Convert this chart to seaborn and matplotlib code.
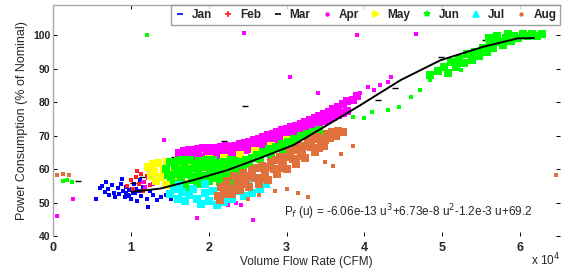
import numpy as np
import pandas as pd
import seaborn as sns
import matplotlib
matplotlib.use("Agg")
import matplotlib.pyplot as plt
from matplotlib.lines import Line2D
from matplotlib.ticker import FuncFormatter

sns.set_theme(style="white")
plt.rcParams['font.family'] = ['Liberation Sans', 'DejaVu Sans']

# flow rate in units of 1e4 CFM, power in % of nominal
# "core" = dense part of each month's cloud, "stray" = isolated points
jan_x = [0.55, 0.60, 0.63, 0.66, 0.70, 0.72, 0.75, 0.78, 0.80, 0.83, 0.85, 0.87, 0.90, 0.92, 0.94, 0.96,
         0.98, 1.00, 1.02, 1.04, 1.06, 1.08, 1.10, 1.13, 1.16, 1.20, 1.24, 1.28, 1.33, 1.38, 1.45, 1.52,
         0.68, 0.88, 1.12, 1.22, 0.93, 0.97, 1.01, 1.05]
jan_y = [51.2, 54.3, 55.0, 53.2, 54.0, 52.4, 55.2, 53.0, 51.8, 54.4, 52.6, 55.6, 53.4, 51.6, 54.8, 52.2,
         53.8, 51.0, 52.8, 55.4, 54.0, 50.6, 53.4, 52.0, 54.6, 51.2, 53.6, 52.4, 50.8, 51.6, 52.2, 51.0,
         56.0, 57.0, 56.6, 48.8, 53.0, 52.0, 54.0, 53.0]

feb_x = [0.95, 1.00, 1.03, 1.06, 1.10, 1.13, 1.17, 1.20, 1.24, 1.28, 1.32, 1.15, 1.08]
feb_y = [55.0, 56.8, 54.2, 57.6, 55.6, 58.4, 56.2, 57.8, 55.2, 58.8, 56.6, 53.4, 59.4]

mar_x = [0.32, 1.02, 1.14, 1.22, 1.32, 1.55, 1.95, 2.20, 2.47, 2.85, 3.15, 3.55, 4.18, 4.40, 4.98, 5.55]
mar_y = [56.4, 55.8, 57.6, 59.8, 61.4, 63.6, 66.2, 68.5, 78.8, 70.5, 72.8, 74.6, 80.6, 84.2, 93.4, 98.5]

apr_core_x = [1.62, 1.68, 1.74, 1.80, 1.86, 1.92, 1.98, 2.04, 2.10, 2.16, 2.22, 2.28, 2.34, 2.40, 2.46,
              2.52, 2.58, 2.64, 2.70, 2.76, 2.82, 2.88, 2.94, 3.00, 3.06, 3.12, 3.18, 3.24, 3.30, 3.36,
              3.42, 3.48, 3.54, 3.60, 3.66, 3.72, 3.78,
              1.62, 1.68, 1.74, 1.80, 1.86, 1.92, 1.98, 2.04, 2.10, 2.16, 2.22, 2.28, 2.34, 2.40, 2.46,
              2.52, 2.58, 2.64, 2.70, 2.76, 2.82, 2.88, 2.94, 3.00, 3.06, 3.12, 3.18, 3.24, 3.30, 3.36,
              3.42, 3.48, 3.54, 3.60, 3.66, 3.72, 3.78, 3.85, 3.90]
apr_core_y = [64.8, 65.4, 65.6, 65.8, 66.0, 66.2, 66.2, 66.4, 66.4, 66.6, 66.8, 66.6, 67.0, 67.4, 67.8,
              68.2, 68.6, 69.0, 69.6, 70.2, 70.6, 71.0, 71.6, 72.0, 72.6, 73.0, 73.6, 74.2, 74.6, 75.2,
              75.8, 76.4, 77.0, 77.8, 78.6, 79.4, 80.4,
              63.0, 63.4, 63.2, 63.6, 63.8, 63.6, 64.0, 64.2, 64.0, 64.4, 64.6, 64.4, 64.8, 65.2, 65.6,
              66.0, 66.6, 67.0, 67.6, 68.0, 68.6, 69.0, 69.6, 70.2, 70.6, 71.2, 71.6, 72.2, 72.8, 73.2,
              73.8, 74.4, 75.0, 75.6, 76.2, 76.8, 77.4, 80.6, 81.8]
apr_stray_x = [1.15, 1.22, 1.28, 1.18, 1.42, 2.15, 2.25, 2.35, 2.42, 3.05, 3.40, 3.95, 4.12, 4.30, 4.34,
               3.90, 4.66, 2.45, 0.25, 0.05, 2.57, 1.85, 4.20, 4.05]
apr_stray_y = [56.0, 57.2, 55.4, 54.6, 68.7, 49.6, 49.2, 50.0, 49.4, 87.5, 82.7, 82.7, 83.6, 86.0, 87.5,
               100.0, 100.3, 100.6, 51.0, 46.0, 44.8, 45.4, 85.0, 84.4]

may_core_x = [1.22, 1.28, 1.30, 1.35, 1.38, 1.42, 1.46, 1.50, 1.55, 1.58, 1.62, 1.66, 1.70, 1.74, 1.32,
              1.26, 1.45, 2.00, 2.20, 2.40, 2.60, 2.80, 3.00]
may_core_y = [60.5, 61.5, 59.0, 61.8, 57.5, 60.0, 62.0, 58.5, 56.0, 61.0, 57.0, 59.5, 55.6, 62.2, 56.4,
              58.0, 55.2, 63.0, 63.2, 64.2, 65.4, 67.0, 68.8]

jun_core_x = [1.45, 1.50, 1.52, 1.58, 1.60, 1.64, 1.68, 1.72, 1.76, 1.80, 1.84, 1.88, 1.90, 1.95, 1.98,
              2.02, 2.06, 2.10, 2.14, 2.18, 2.22, 2.26, 2.30, 2.34, 2.38, 2.42, 1.55, 1.70, 2.00,
              1.48, 1.56, 1.62, 1.66, 1.74, 1.78, 1.82, 1.86, 1.92, 1.96, 2.00, 2.04, 2.08, 2.12, 2.16,
              2.20, 2.24, 2.28, 2.32, 2.36, 2.40, 2.44, 1.85, 2.15, 2.30,
              2.48, 2.55, 2.62, 2.70, 2.78, 2.86, 2.94, 3.02, 3.10, 3.18, 3.26, 3.34, 3.42, 2.52, 2.66,
              2.80, 2.96, 3.12, 3.30, 3.46,
              4.85, 4.95, 5.02, 5.08, 5.12, 5.18, 5.22, 5.28, 5.32, 5.38, 5.42, 5.48, 5.52, 5.58, 5.62,
              5.66, 5.72, 5.78, 5.82, 5.88, 5.92, 5.98, 6.04, 6.10, 6.16, 6.22, 6.28, 5.70, 5.85, 5.60]
jun_core_y = [60.0, 62.0, 57.5, 59.8, 62.4, 56.4, 60.8, 58.4, 62.6, 56.8, 60.2, 62.4, 58.0, 55.8, 61.0,
              59.0, 62.6, 57.2, 60.4, 62.2, 58.6, 61.2, 59.6, 62.4, 60.6, 62.0, 55.4, 54.8, 56.4,
              58.2, 61.0, 58.6, 62.8, 60.0, 57.6, 61.6, 58.8, 60.6, 62.8, 57.8, 60.8, 58.4, 61.8, 59.2,
              57.0, 60.0, 62.8, 57.8, 61.6, 58.6, 60.4, 55.6, 56.0, 56.2,
              62.6, 63.4, 64.2, 65.0, 66.0, 66.6, 67.4, 68.2, 69.0, 69.8, 70.4, 71.0, 71.8, 61.6, 63.0,
              64.6, 66.0, 67.6, 69.0, 69.4,
              88.0, 89.4, 90.6, 88.8, 92.0, 90.4, 93.0, 91.6, 94.2, 92.6, 95.0, 93.8, 96.0, 94.8, 97.2,
              96.0, 98.0, 97.0, 99.0, 98.2, 99.6, 99.0, 100.2, 99.6, 100.4, 99.8, 100.2, 99.8, 100.4, 99.2]
jun_stray_x = [3.86, 3.99, 4.30, 4.72, 4.85, 5.24, 4.45, 0.12, 0.18, 0.24, 1.21, 4.60, 4.10]
jun_stray_y = [75.5, 75.2, 77.6, 83.6, 86.6, 89.6, 78.5, 56.4, 56.8, 56.2, 100.0, 81.5, 77.0]

jul_core_x = [1.50, 1.55, 1.60, 1.65, 1.70, 1.75, 1.80, 1.85, 1.90, 1.95, 2.00, 2.05, 2.10, 2.15, 2.20,
              2.25, 2.30, 2.38, 2.45, 2.55, 2.66, 2.74, 2.50, 1.62, 1.95]
jul_core_y = [52.5, 54.0, 51.0, 53.2, 50.6, 52.4, 54.2, 51.2, 49.6, 52.8, 50.4, 53.6, 49.2, 51.8, 50.2,
              52.6, 51.0, 53.4, 52.0, 53.0, 54.0, 55.4, 56.8, 55.2, 55.6]

aug_core_x = [2.12, 2.16, 2.20, 2.24, 2.28, 2.32, 2.36, 2.40, 2.44, 2.48, 2.52, 2.56, 2.60, 2.64, 2.68,
              2.72, 2.76, 2.80, 2.84, 2.88, 2.92, 2.96, 3.00, 3.04, 3.08, 3.12, 3.16, 3.20, 3.24, 3.28,
              3.32, 3.36, 3.40, 3.44, 3.48, 3.52, 3.56, 3.60, 3.66, 3.72,
              2.14, 2.22, 2.30, 2.38, 2.46, 2.54, 2.62, 2.70, 2.78, 2.86, 2.94, 3.02, 3.10, 3.18, 3.26,
              3.34, 3.42, 3.50, 3.58, 3.64]
aug_core_y = [52.0, 54.6, 52.6, 56.4, 54.0, 57.8, 55.2, 53.8, 58.8, 56.6, 54.6, 59.6, 57.4, 55.6, 61.0,
              58.8, 56.8, 62.2, 60.0, 58.4, 63.6, 61.4, 60.0, 65.0, 63.0, 61.6, 66.8, 64.8, 63.4, 68.2,
              66.6, 65.2, 69.6, 68.2, 67.0, 70.4, 69.2, 70.8, 71.4, 71.0,
              50.8, 55.0, 52.6, 57.0, 55.4, 58.0, 60.2, 57.2, 60.6, 62.8, 60.2, 63.6, 65.6, 63.8, 67.0,
              69.0, 66.4, 68.6, 71.2, 69.8]
aug_stray_x = [2.85, 3.00, 3.15, 3.28, 2.50, 2.65, 3.50, 3.70, 3.85, 0.05, 0.12, 0.20, 6.46, 3.60]
aug_stray_y = [53.6, 54.2, 53.0, 51.6, 51.2, 52.2, 62.0, 64.5, 67.0, 58.3, 58.4, 58.2, 58.2, 61.0]

# fitted curve
fit_x = [1.01, 1.38, 1.80, 2.24, 2.66, 3.09, 3.52, 3.95, 4.47, 4.98, 5.53, 5.97, 6.18]
fit_y = [53.2, 54.2, 56.7, 59.7, 63.3, 67.2, 73.1, 79.1, 86.6, 92.5, 96.5, 99.0, 99.1]

months = ["Jan", "Feb", "Mar", "Apr", "May", "Jun", "Jul", "Aug"]
colors = ["#0000ff", "#ff2020", "#000000", "#ff00ff", "#ffff00", "#00ff00", "#00ffff", "#e0703c"]
leg_markers = ["_", "+", "_", ".", ">", "*", "^", "."]

# (x, y, color, size, marker) layers, drawn in month order
layers = [
    (jan_x, jan_y, colors[0], 10, "s"),
    (feb_x, feb_y, colors[1], 10, "s"),
    (mar_x, mar_y, colors[2], 14, "_"),
    (apr_core_x, apr_core_y, colors[3], 40, "s"),
    (apr_stray_x, apr_stray_y, colors[3], 6, "s"),
    (may_core_x, may_core_y, colors[4], 40, "s"),
    (jun_core_x, jun_core_y, colors[5], 40, "s"),
    (jun_stray_x, jun_stray_y, colors[5], 6, "s"),
    (jul_core_x, jul_core_y, colors[6], 36, "s"),
    (aug_core_x, aug_core_y, colors[7], 40, "s"),
    (aug_stray_x, aug_stray_y, colors[7], 6, "s"),
]

fig = plt.figure(figsize=(5.66, 2.72), dpi=100)
ax = fig.add_axes([0.094, 0.132, 0.896, 0.85])

for xs, ys, c, s, mk in layers:
    df = pd.DataFrame({"flow": np.array(xs) * 1e4, "power": ys})
    sns.scatterplot(data=df, x="flow", y="power", color=c, marker=mk, s=s,
                    linewidth=(1.0 if mk == "_" else 0), edgecolor=c, ax=ax)

fit_df = pd.DataFrame({"flow": np.array(fit_x) * 1e4, "power": fit_y})
sns.lineplot(data=fit_df, x="flow", y="power", color="black", linewidth=1.4, ax=ax)

ax.set_xlim(0, 65200)
ax.set_ylim(40, 109)
ax.set_xticks([0, 10000, 20000, 30000, 40000, 50000, 60000])
ax.set_yticks([40, 50, 60, 70, 80, 90, 100])
ax.xaxis.set_major_formatter(FuncFormatter(lambda v, p: "%d" % round(v / 1e4)))
ax.tick_params(axis="x", labelsize=9, pad=4, direction="in", length=3, width=0.7,
               top=True, bottom=True, color="black")
ax.tick_params(axis="y", labelsize=7.5, pad=2, direction="in", length=3, width=0.7,
               left=True, right=True, color="black")
for lab in ax.get_xticklabels() + ax.get_yticklabels():
    lab.set_fontweight("bold")

ax.set_xlabel("Volume Flow Rate (CFM)", fontsize=8.5, labelpad=2)
ax.set_ylabel("Power Consumption (% of Nominal)", fontsize=9, labelpad=4)

for side in ["bottom", "right"]:
    ax.spines[side].set_visible(False)
for side in ["top", "left"]:
    ax.spines[side].set_color("#aaaaaa")
    ax.spines[side].set_linewidth(1.0)

fig.text(0.99, 0.015, "x 10$^4$", fontsize=8.5, ha="right", va="bottom")
ax.text(0.455, 0.105, "P$_f$ (u) = -6.06e-13 u$^3$+6.73e-8 u$^2$-1.2e-3 u+69.2",
        transform=ax.transAxes, fontsize=8.5, ha="left", va="center")

handles = [Line2D([], [], linestyle="none", marker=mk, color=c, markersize=4, markeredgewidth=1.2)
           for mk, c in zip(leg_markers, colors)]
leg = ax.legend(handles, months, ncol=8, loc="upper right", bbox_to_anchor=(1.0, 1.0),
                fontsize=8.5, frameon=True, fancybox=False, handlelength=0.8, handletextpad=0.6,
                columnspacing=1.0, borderpad=0.35, borderaxespad=0)
leg.get_frame().set_edgecolor("#888888")
leg.get_frame().set_linewidth(1.0)
for t in leg.get_texts():
    t.set_fontweight("bold")

fig.savefig("out.png", dpi=100)
